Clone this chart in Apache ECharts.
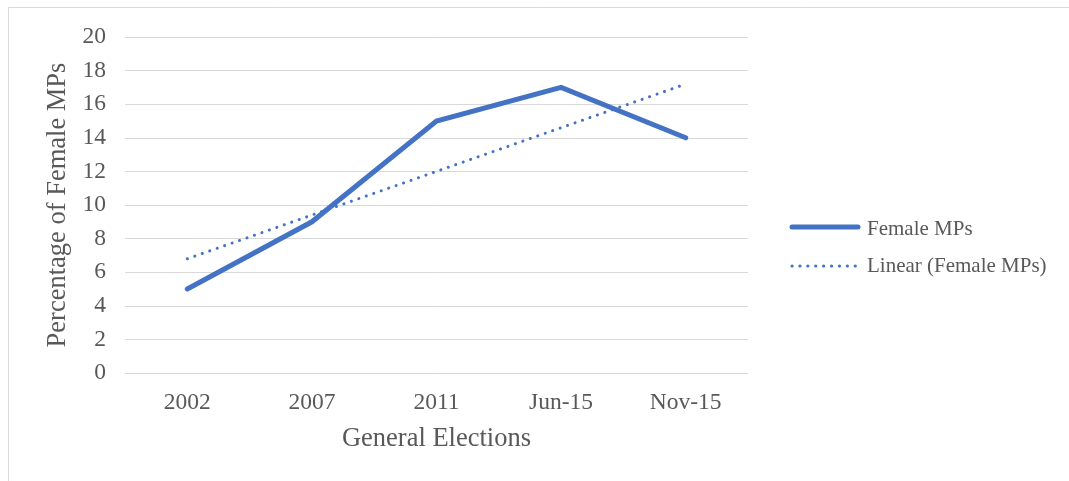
<!DOCTYPE html>
<html>
<head>
<meta charset="utf-8">
<script src="https://cdn.jsdelivr.net/npm/echarts@6/dist/echarts.min.js"></script>
<style>
  html, body { margin: 0; padding: 0; background: #fff; }
  #chart { width: 1069px; height: 481px; }
</style>
</head>
<body>
<div id="chart"></div>
<script>
// General election labels on the category axis
const elections = ['2002', '2007', '2011', 'Jun-15', 'Nov-15'];
// Share of female MPs at each election (%)
const femaleMPs = [5, 9, 15, 17, 14];
// Linear trendline values at each election
const linearTrend = [6.8, 9.4, 12.0, 14.6, 17.2];
// Value axis ticks
const yTicks = { min: 0, max: 20, interval: 2 };

const blue = '#4472C4';
const textColor = '#595959';
const gridColor = '#d9d9d9';
const font = '"Liberation Serif", "Times New Roman", serif';

const chart = echarts.init(document.getElementById('chart'), null, { renderer: 'canvas' });

chart.setOption({
  backgroundColor: '#fff',
  animation: false,
  grid: { left: 125, right: 321, top: 37, bottom: 108 },
  legend: {
    orient: 'vertical',
    left: 857,
    top: 214,
    itemWidth: 0,
    itemHeight: 8,
    itemGap: 16,
    textStyle: { fontFamily: font, fontSize: 21, color: textColor },
    data: [
      { name: 'Female MPs', icon: 'none' },
      { name: 'Linear (Female MPs)', icon: 'none' }
    ]
  },
  xAxis: {
    type: 'category',
    data: elections,
    boundaryGap: true,
    name: 'General Elections',
    nameLocation: 'middle',
    nameGap: 53,
    nameTextStyle: { fontFamily: font, fontSize: 26.5, color: textColor },
    axisLine: { show: true, lineStyle: { color: gridColor, width: 1 } },
    axisTick: { show: false },
    axisLabel: { fontFamily: font, fontSize: 23.5, color: textColor, margin: 18 }
  },
  yAxis: {
    type: 'value',
    min: yTicks.min,
    max: yTicks.max,
    interval: yTicks.interval,
    name: 'Percentage of Female MPs',
    nameLocation: 'middle',
    nameGap: 49,
    nameTextStyle: { fontFamily: font, fontSize: 26.5, color: textColor },
    axisLine: { show: false },
    axisTick: { show: false },
    axisLabel: { fontFamily: font, fontSize: 23.5, color: textColor, margin: 19 },
    splitLine: { show: true, lineStyle: { color: gridColor, width: 1 } }
  },
  series: [
    {
      name: 'Female MPs',
      type: 'line',
      data: femaleMPs,
      symbol: 'none',
      smooth: false,
      lineStyle: { color: blue, width: 5, cap: 'round', join: 'miter' },
      itemStyle: { color: blue },
      z: 3
    },
    {
      name: 'Linear (Female MPs)',
      type: 'line',
      data: linearTrend,
      symbol: 'none',
      lineStyle: { color: blue, width: 3, type: [0.1, 7.8], cap: 'round' },
      itemStyle: { color: blue },
      z: 2
    }
  ],
  // Outer chart frame and legend key samples
  graphic: [
    {
      type: 'rect',
      shape: { x: 8.5, y: 7.5, width: 1069, height: 481 },
      style: { fill: 'none', stroke: gridColor, lineWidth: 1 },
      silent: true
    },
    {
      type: 'line',
      shape: { x1: 792, y1: 227, x2: 858, y2: 227 },
      style: { stroke: blue, lineWidth: 5, lineCap: 'round' },
      silent: true
    },
    {
      type: 'line',
      shape: { x1: 792, y1: 266, x2: 860, y2: 266 },
      style: { stroke: blue, lineWidth: 3.2, lineCap: 'round', lineDash: [0.1, 7.8] },
      silent: true
    }
  ]
});
</script>
</body>
</html>
